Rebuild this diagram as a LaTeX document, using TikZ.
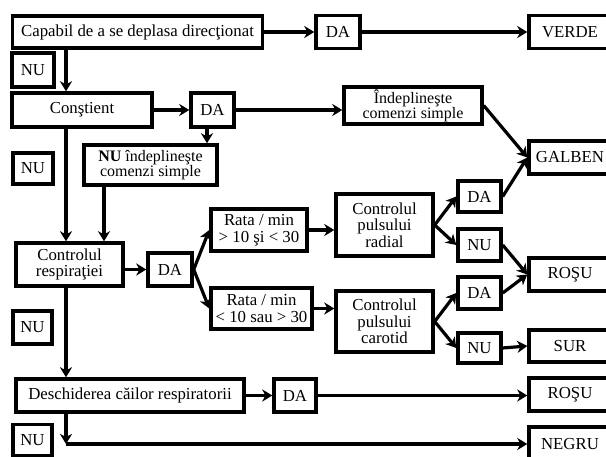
\documentclass[tikz,border=0pt]{standalone}
\usepackage{fontspec}
\setmainfont{Liberation Serif}
\usetikzlibrary{arrows.meta}
\begin{document}
\begin{tikzpicture}[x=1pt,y=-1pt,
  box/.style={draw,line width=3.4pt,inner sep=0pt,align=center,
    font=\fontsize{16.8}{16.6}\selectfont},
  tight/.style={font=\fontsize{16}{15.2}\selectfont},
  arr/.style={line width=3.2pt,-{Stealth[length=10pt,width=12pt,inset=3pt]}}]
\useasboundingbox (0,0) rectangle (606,457);
\clip (0,0) rectangle (606,457);
\fill[white] (0,0) rectangle (606,457);

% left spine and drop lines
\coordinate (spine) at (66,0);
\coordinate (drop) at (207,0);
\coordinate (drop2) at (104,0);

% boxes
\node[box,minimum width=250,minimum height=32] (cap) at (137.5,32) {Capabil de a se deplasa direcţionat};
\node[box,minimum width=44,minimum height=33] (da1) at (338,32) {DA};
\node[box,minimum width=82,minimum height=33] (verde) at (570,32) {VERDE};
\node[box,minimum width=42,minimum height=34] (nu1) at (33,70) {NU};
\node[box,minimum width=140,minimum height=34] (cons) at (82,110) {Conştient};
\node[box,minimum width=43,minimum height=34] (da2) at (212.5,110) {DA};
\node[box,tight,minimum width=138,minimum height=37] (inde) at (413,105.5) {Îndeplineşte\\comenzi simple};
\node[box,tight,minimum width=133,minimum height=40] (nuinde) at (150.5,165) {\textbf{NU} îndeplineşte\\comenzi simple};
\node[box,minimum width=40,minimum height=31] (nu2) at (33,168.5) {NU};
\node[box,minimum width=107,minimum height=43] (resp) at (69.5,264.5) {Controlul\\respiraţiei};
\node[box,minimum width=44,minimum height=33] (da3) at (170,269.5) {DA};
\node[box,minimum width=96,minimum height=42] (rata1) at (259,230) {Rata / min\\> 10 şi < 30};
\node[box,minimum width=101,minimum height=41] (rata2) at (261.5,308.5) {Rata / min\\< 10 sau > 30};
\node[box,minimum width=97,minimum height=62] (radial) at (384.5,225) {Controlul\\pulsului\\radial};
\node[box,minimum width=97,minimum height=61] (carot) at (384.5,321.5) {Controlul\\pulsului\\carotid};
\node[box,minimum width=43,minimum height=31] (da4) at (479.5,196.5) {DA};
\node[box,minimum width=43,minimum height=32] (nu4) at (479.5,245) {NU};
\node[box,minimum width=43,minimum height=32] (da5) at (479.5,293) {DA};
\node[box,minimum width=43,minimum height=30] (nu5) at (479.5,348) {NU};
\node[box,minimum width=82,minimum height=33] (galben) at (570,157.5) {GALBEN};
\node[box,minimum width=82,minimum height=33] (rosu1) at (570,274.5) {ROŞU};
\node[box,minimum width=82,minimum height=32] (sur) at (570,346) {SUR};
\node[box,minimum width=39,minimum height=33] (nu3) at (32.5,327.5) {NU};
\node[box,minimum width=228,minimum height=33] (desc) at (130,395.5) {Deschiderea căilor respiratorii};
\node[box,minimum width=42,minimum height=33] (da6) at (295,395.5) {DA};
\node[box,minimum width=82,minimum height=33] (rosu2) at (570,394.5) {ROŞU};
\node[box,minimum width=39,minimum height=31] (nu6) at (32.5,440) {NU};
\node[box,minimum width=82,minimum height=34] (negru) at (570,444) {NEGRU};

% connectors
\draw[arr] (cap.east) -- (da1.west);
\draw[arr] (da1.east) -- (verde.west);
\draw[arr] (cap.south -| spine) -- (cons.north -| spine);
\draw[arr] (cons.east) -- (da2.west);
\draw[arr] (da2.east) -- (da2.east -| inde.west);
\draw[arr] (da2.south -| drop) -- (nuinde.north -| drop);
\draw[arr] (cons.south -| spine) -- (resp.north -| spine);
\draw[arr] (nuinde.south -| drop2) -- (resp.north -| drop2);
\draw[arr] (resp.east |- da3.west) -- (da3.west);
\draw[arr] (da3.east) -- (rata1.west);
\draw[arr] (da3.east) -- (rata2.west);
\draw[arr] (rata1.east) -- (rata1.east -| radial.west);
\draw[arr] (rata2.east) -- (rata2.east -| carot.west);
\draw[arr] (radial.east) -- (da4.west);
\draw[arr] (radial.east) -- (nu4.west);
\draw[arr] (carot.east) -- (da5.west);
\draw[arr] (carot.east) -- (nu5.west);
\draw[arr] (inde.east) -- (galben.west);
\draw[arr] (da4.east) -- (galben.west);
\draw[arr] (nu4.east) -- (rosu1.west);
\draw[arr] (da5.east) -- (rosu1.west);
\draw[arr] (nu5.east) -- (sur.west);
\draw[arr] (resp.south -| spine) -- (desc.north -| spine);
\draw[arr] (desc.east) -- (da6.west);
\draw[arr] (da6.east) -- (da6.east -| rosu2.west);
\draw[arr] (desc.south -| spine) -- (spine |- negru.west);
\draw[arr] (spine |- negru.west) -- (negru.west);
\end{tikzpicture}
\end{document}
